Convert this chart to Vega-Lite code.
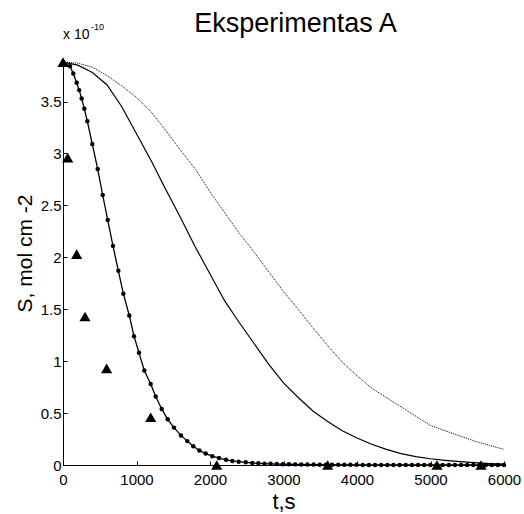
{
  "$schema": "https://vega.github.io/schema/vega-lite/v6.json",
  "autosize": "none",
  "width": 441,
  "height": 405,
  "padding": {"left": 63, "top": 60, "right": 20, "bottom": 49},
  "background": "white",
  "config": {
    "view": {"stroke": null},
    "font": "Liberation Sans",
    "axis": {"domainColor": "black", "tickColor": "black", "labelColor": "black", "titleColor": "black", "grid": false, "labelFont": "Liberation Sans", "titleFont": "Liberation Sans", "titleFontWeight": "normal"}
  },
  "title": {"text": "Eksperimentas A", "fontSize": 27, "fontWeight": "normal", "font": "Liberation Sans", "color": "black", "anchor": "middle", "frame": "group", "dx": 12, "offset": -15},
  "datasets": {
    "multiplier": [{"base": "x 10", "exponent": "-10"}],
    "triangles": [
      {"t": 0, "S": 3.88e-10},
      {"t": 64, "S": 2.96e-10},
      {"t": 186, "S": 2.03e-10},
      {"t": 299, "S": 1.43e-10},
      {"t": 594, "S": 0.93e-10},
      {"t": 1193, "S": 0.46e-10},
      {"t": 2091, "S": 0.0},
      {"t": 3601, "S": 0.0},
      {"t": 5088, "S": 0.0},
      {"t": 5687, "S": 0.0}
    ],
    "fit": [
      {"t": 0, "S": 3.88e-10},
      {"t": 95, "S": 3.84e-10},
      {"t": 140, "S": 3.77e-10},
      {"t": 186, "S": 3.68e-10},
      {"t": 220, "S": 3.61e-10},
      {"t": 254, "S": 3.53e-10},
      {"t": 290, "S": 3.43e-10},
      {"t": 331, "S": 3.31e-10},
      {"t": 399, "S": 3.09e-10},
      {"t": 472, "S": 2.85e-10},
      {"t": 540, "S": 2.60e-10},
      {"t": 608, "S": 2.36e-10},
      {"t": 680, "S": 2.11e-10},
      {"t": 753, "S": 1.87e-10},
      {"t": 821, "S": 1.65e-10},
      {"t": 902, "S": 1.44e-10},
      {"t": 966, "S": 1.24e-10},
      {"t": 1034, "S": 1.08e-10},
      {"t": 1106, "S": 0.91e-10},
      {"t": 1193, "S": 0.78e-10},
      {"t": 1261, "S": 0.66e-10},
      {"t": 1343, "S": 0.54e-10},
      {"t": 1424, "S": 0.44e-10},
      {"t": 1510, "S": 0.36e-10},
      {"t": 1605, "S": 0.285e-10},
      {"t": 1691, "S": 0.23e-10},
      {"t": 1773, "S": 0.18e-10},
      {"t": 1855, "S": 0.14e-10},
      {"t": 1941, "S": 0.11e-10},
      {"t": 2032, "S": 0.085e-10},
      {"t": 2122, "S": 0.067e-10},
      {"t": 2218, "S": 0.05e-10},
      {"t": 2304, "S": 0.039e-10},
      {"t": 2390, "S": 0.032e-10},
      {"t": 2486, "S": 0.026e-10},
      {"t": 2576, "S": 0.02e-10},
      {"t": 2657, "S": 0.016e-10},
      {"t": 2741, "S": 0.013e-10},
      {"t": 2824, "S": 0.011e-10},
      {"t": 2908, "S": 0.009e-10},
      {"t": 2991, "S": 0.008e-10},
      {"t": 3075, "S": 0.007e-10},
      {"t": 3159, "S": 0.006e-10},
      {"t": 3242, "S": 0.005e-10},
      {"t": 3326, "S": 0.004e-10},
      {"t": 3409, "S": 0.004e-10},
      {"t": 3493, "S": 0.003e-10},
      {"t": 3577, "S": 0.003e-10},
      {"t": 3660, "S": 0.003e-10},
      {"t": 3744, "S": 0.002e-10},
      {"t": 3827, "S": 0.002e-10},
      {"t": 3911, "S": 0.002e-10},
      {"t": 3995, "S": 0.002e-10},
      {"t": 4078, "S": 0.001e-10},
      {"t": 4162, "S": 0.001e-10},
      {"t": 4245, "S": 0.001e-10},
      {"t": 4329, "S": 0.001e-10},
      {"t": 4413, "S": 0.001e-10},
      {"t": 4496, "S": 0.001e-10},
      {"t": 4580, "S": 0.001e-10},
      {"t": 4663, "S": 0.001e-10},
      {"t": 4747, "S": 0.0},
      {"t": 4831, "S": 0.0},
      {"t": 4914, "S": 0.0},
      {"t": 4998, "S": 0.0},
      {"t": 5081, "S": 0.0},
      {"t": 5165, "S": 0.0},
      {"t": 5249, "S": 0.0},
      {"t": 5332, "S": 0.0},
      {"t": 5416, "S": 0.0},
      {"t": 5499, "S": 0.0},
      {"t": 5583, "S": 0.0},
      {"t": 5667, "S": 0.0},
      {"t": 5750, "S": 0.0},
      {"t": 5834, "S": 0.0},
      {"t": 5917, "S": 0.0},
      {"t": 6000, "S": 0.0}
    ],
    "solid": [
      {"t": 0, "S": 3.88e-10},
      {"t": 200, "S": 3.85e-10},
      {"t": 400, "S": 3.78e-10},
      {"t": 600, "S": 3.66e-10},
      {"t": 800, "S": 3.45e-10},
      {"t": 1000, "S": 3.19e-10},
      {"t": 1200, "S": 2.93e-10},
      {"t": 1400, "S": 2.65e-10},
      {"t": 1600, "S": 2.38e-10},
      {"t": 1800, "S": 2.10e-10},
      {"t": 2000, "S": 1.84e-10},
      {"t": 2200, "S": 1.58e-10},
      {"t": 2400, "S": 1.37e-10},
      {"t": 2600, "S": 1.17e-10},
      {"t": 2800, "S": 0.97e-10},
      {"t": 3000, "S": 0.79e-10},
      {"t": 3200, "S": 0.65e-10},
      {"t": 3400, "S": 0.52e-10},
      {"t": 3600, "S": 0.42e-10},
      {"t": 3800, "S": 0.33e-10},
      {"t": 4000, "S": 0.26e-10},
      {"t": 4200, "S": 0.20e-10},
      {"t": 4400, "S": 0.15e-10},
      {"t": 4600, "S": 0.11e-10},
      {"t": 4800, "S": 0.08e-10},
      {"t": 5000, "S": 0.06e-10},
      {"t": 5200, "S": 0.045e-10},
      {"t": 5400, "S": 0.032e-10},
      {"t": 5600, "S": 0.022e-10},
      {"t": 5800, "S": 0.014e-10},
      {"t": 6000, "S": 0.008e-10}
    ],
    "dotted": [
      {"t": 0, "S": 3.88e-10},
      {"t": 200, "S": 3.87e-10},
      {"t": 400, "S": 3.83e-10},
      {"t": 600, "S": 3.75e-10},
      {"t": 800, "S": 3.65e-10},
      {"t": 1000, "S": 3.54e-10},
      {"t": 1200, "S": 3.40e-10},
      {"t": 1400, "S": 3.22e-10},
      {"t": 1600, "S": 3.03e-10},
      {"t": 1800, "S": 2.85e-10},
      {"t": 2000, "S": 2.63e-10},
      {"t": 2200, "S": 2.43e-10},
      {"t": 2400, "S": 2.23e-10},
      {"t": 2600, "S": 2.05e-10},
      {"t": 2800, "S": 1.86e-10},
      {"t": 3000, "S": 1.67e-10},
      {"t": 3200, "S": 1.50e-10},
      {"t": 3400, "S": 1.32e-10},
      {"t": 3600, "S": 1.15e-10},
      {"t": 3800, "S": 0.99e-10},
      {"t": 4000, "S": 0.86e-10},
      {"t": 4200, "S": 0.74e-10},
      {"t": 4400, "S": 0.65e-10},
      {"t": 4600, "S": 0.56e-10},
      {"t": 4800, "S": 0.47e-10},
      {"t": 5000, "S": 0.38e-10},
      {"t": 5200, "S": 0.33e-10},
      {"t": 5400, "S": 0.28e-10},
      {"t": 5600, "S": 0.23e-10},
      {"t": 5800, "S": 0.19e-10},
      {"t": 6000, "S": 0.15e-10}
    ]
  },
  "layer": [
    {"data": {"name": "dotted"}, "mark": {"type": "line", "color": "black", "strokeWidth": 1, "strokeDash": [1, 1], "clip": true},
      "encoding": {
        "x": {"field": "t", "type": "quantitative", "scale": {"domain": [0, 6000], "nice": false, "zero": false},
          "axis": {"title": "t,s", "titleFontSize": 22, "titlePadding": 4, "values": [0, 1000, 2000, 3000, 4000, 5000, 6000], "format": "d", "labelFontSize": 15, "tickSize": -4, "labelPadding": 11, "labelFlush": false, "labelOverlap": false}},
        "y": {"field": "S", "type": "quantitative", "scale": {"domain": [0, 3.9e-10], "nice": false},
          "axis": {"title": "S, mol cm  -2", "titleFontSize": 21, "titlePadding": 5, "titleY": 193, "values": [0, 0.5e-10, 1e-10, 1.5e-10, 2e-10, 2.5e-10, 3e-10, 3.5e-10], "labelExpr": "format(datum.value * 1e10, '.1~f')", "labelFontSize": 15, "tickSize": -4, "labelPadding": 6, "labelOverlap": false}}
      }},
    {"data": {"name": "solid"}, "mark": {"type": "line", "color": "black", "strokeWidth": 1.2, "clip": true},
      "encoding": {"x": {"field": "t", "type": "quantitative"}, "y": {"field": "S", "type": "quantitative"}}},
    {"data": {"name": "fit"}, "mark": {"type": "line", "color": "black", "strokeWidth": 1.3, "point": {"filled": true, "color": "black", "size": 20}},
      "encoding": {"x": {"field": "t", "type": "quantitative"}, "y": {"field": "S", "type": "quantitative"}}},
    {"data": {"name": "triangles"}, "mark": {"type": "point", "shape": "triangle-up", "filled": true, "color": "black", "opacity": 1, "size": 125},
      "encoding": {"x": {"field": "t", "type": "quantitative"}, "y": {"field": "S", "type": "quantitative"}}},
    {"data": {"name": "multiplier"}, "mark": {"type": "text", "align": "left", "baseline": "alphabetic", "fontSize": 14, "color": "black", "dy": -21},
      "encoding": {"x": {"datum": 0, "type": "quantitative"}, "y": {"datum": 3.9e-10, "type": "quantitative"}, "text": {"field": "base"}}},
    {"data": {"name": "multiplier"}, "mark": {"type": "text", "align": "left", "baseline": "alphabetic", "fontSize": 9, "color": "black", "dx": 28, "dy": -30},
      "encoding": {"x": {"datum": 0, "type": "quantitative"}, "y": {"datum": 3.9e-10, "type": "quantitative"}, "text": {"field": "exponent"}}}
  ]
}
